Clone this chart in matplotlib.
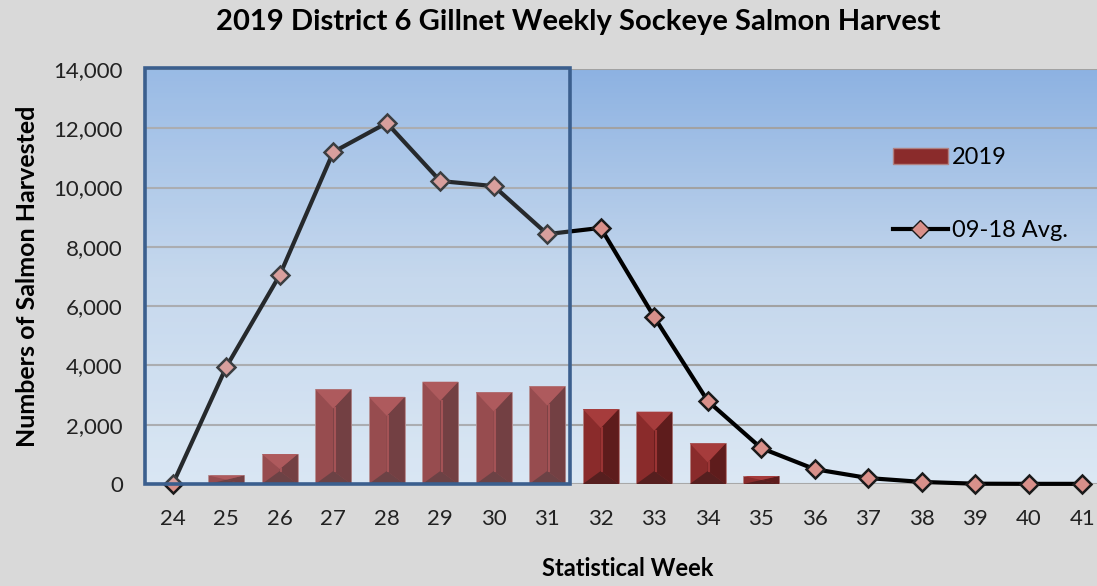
import numpy as np
import matplotlib
matplotlib.use("Agg")
import matplotlib.pyplot as plt
from matplotlib.patches import Polygon, Rectangle, Patch
from matplotlib.lines import Line2D
from matplotlib.ticker import FuncFormatter

plt.rcParams['font.family'] = ['Lato', 'DejaVu Sans']

# data
weeks = list(range(24, 42))
harvest_2019 = [0, 290, 1010, 3190, 2940, 3450, 3090, 3290, 2530, 2440, 1370, 270,
                0, 0, 0, 0, 0, 0]
avg_09_18 = [0, 3950, 7050, 11200, 12180, 10220, 10050, 8430, 8640, 5630, 2800, 1210,
             500, 200, 70, 10, 5, 5]
highlight_weeks = (24, 31)

fig = plt.figure(figsize=(10.97, 5.86), dpi=100, facecolor='#d9d9d9')
ax = fig.add_axes([145/1097, (586-484)/586, 965/1097, 415/586])
ax.set_xlim(23.48, 41.52)
ax.set_ylim(0, 14000)

# gradient background
grad = np.linspace(0, 1, 256).reshape(-1, 1)
cmap = matplotlib.colors.LinearSegmentedColormap.from_list('bg', ['#dce8f4', '#c3d6ec', '#8db2e2'])
ax.imshow(grad, aspect='auto', cmap=cmap, origin='lower',
          extent=[23.48, 41.52, 0, 14000], zorder=0)

for yv in range(2000, 14001, 2000):
    ax.axhline(yv, color='#a2a2a2', lw=1.5, zorder=1)
ax.axhline(0, color='#a8a8a8', lw=1.5, zorder=1)

# bevelled bars
bw = 0.67
ax.bar(weeks, harvest_2019, width=bw, color='#8a2b2b', edgecolor='#b08080', lw=0.6, zorder=2)
fig.canvas.draw()
px_per_unit = ax.transData.transform((0, 1000))[1] - ax.transData.transform((0, 0))[1]
for x, h in zip(weeks, harvest_2019):
    if h <= 0:
        continue
    hp = h / 1000 * px_per_unit
    d = min(19, hp / 2) / px_per_unit * 1000
    db = min(13, hp / 2) / px_per_unit * 1000
    l, r = x - bw/2, x + bw/2
    ax.add_patch(Polygon([(x, h - d), (r, h), (r, 0), (x, db)], closed=True,
                         color='#5e1c1c', zorder=3, lw=0))
    ax.add_patch(Polygon([(l, h), (r, h), (x, h - d)], closed=True,
                         color='#a63c3c', zorder=3, lw=0))
    ax.add_patch(Polygon([(l, 0), (r, 0), (x, db)], closed=True,
                         color='#561f1f', zorder=3, lw=0))
    ax.plot([x + 0.03, x + 0.03], [db, h - d], color='#9a3434', lw=1.5, zorder=3)

# average line
ax.plot(weeks, avg_09_18, color='black', lw=3, marker='D', ms=9,
        mfc='#d9908a', mec='#1a1a1a', mew=1.8, zorder=4, clip_on=False)

# highlight box
x0 = highlight_weeks[0] - 0.52
x1 = highlight_weeks[1] + 0.42
ax.add_patch(Rectangle((x0, 0), x1 - x0, 14050, facecolor='#d4e4f6', alpha=0.18,
                       edgecolor='none', zorder=5, clip_on=False))
ax.add_patch(Rectangle((x0, 0), x1 - x0, 14050, facecolor='none',
                       edgecolor='#3b5f8e', lw=2.6, zorder=6, clip_on=False))

for s in ax.spines.values():
    s.set_visible(False)
ax.set_xticks(weeks)
ax.set_yticks(range(0, 14001, 2000))
ax.yaxis.set_major_formatter(FuncFormatter(lambda v, p: f'{int(v):,}'))
ax.tick_params(length=0, labelsize=16, colors='#222222')
ax.tick_params(axis='x', pad=18)
ax.tick_params(axis='y', pad=16)

ax.set_xlabel('Statistical Week', fontsize=17, fontweight='bold', labelpad=20)
ax.set_ylabel('Numbers of Salmon Harvested', fontsize=18, fontweight='bold', labelpad=10)
fig.text(578/1097, 1 - 22/586, '2019 District 6 Gillnet Weekly Sockeye Salmon Harvest',
         ha='center', va='center', fontsize=21, fontweight='bold')

handles = [Patch(facecolor='#8a2b2b', edgecolor='#b08080'),
           Line2D([], [], color='black', lw=3, marker='D', ms=9, mfc='#d9908a', mec='#1a1a1a')]
fig.legend(handles, ['2019', '09-18 Avg.'], loc='upper left',
           bbox_to_anchor=(872/1097, 1 - 126/586), frameon=False, fontsize=17,
           labelspacing=2.2, handlelength=2.3, handletextpad=0.2)

fig.savefig('out.png', dpi=100, facecolor=fig.get_facecolor())
